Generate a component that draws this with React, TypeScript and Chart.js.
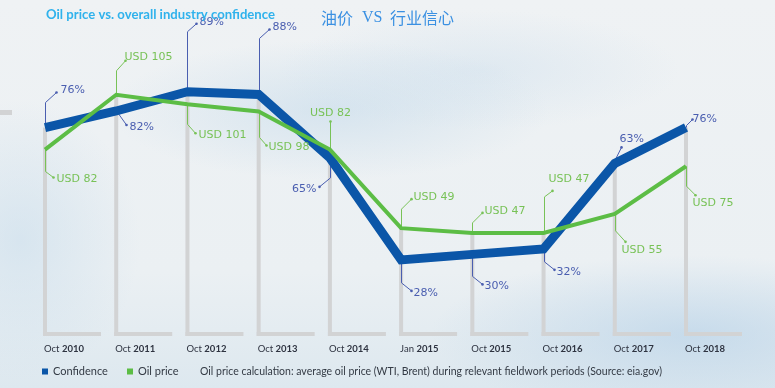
import React, { useEffect, useRef } from "react";
import { Chart, registerables } from "chart.js";

Chart.register(...registerables);

// ---- data ----
const categoryMonths = ["Oct", "Oct", "Oct", "Oct", "Oct", "Jan", "Oct", "Oct", "Oct", "Oct"];
const categoryYears = ["2010", "2011", "2012", "2013", "2014", "2015", "2015", "2016", "2017", "2018"];
const confidence = [76, 82, 89, 88, 65, 28, 30, 32, 63, 76];
const oilPrice = [82, 105, 101, 98, 82, 49, 47, 47, 55, 75];
const confidenceLabels = confidence.map((v) => `${v}%`);
const oilLabels = oilPrice.map((v) => `USD ${v}`);

const legendItems = ["Confidence", "Oil price"];
const noteText =
  "Oil price calculation: average oil price (WTI, Brent) during relevant fieldwork periods (Source: eia.gov)";
const titleText = "Oil price vs. overall industry confidence";

// ---- styles ----
const BLUE = "#0b56a8";
const GREEN = "#5cbd45";
const BLUE_LABEL = "#4a5eb0";
const GREEN_LABEL = "#78c257";
const BAR_GREY = "#d2d3d4";

// leader layout: [vertical, diagX, diagY, textDx, textDy, align]
type Lay = [number, number, number, number, number, string];
const confLabelLayout: Lay[] = [
  [-25, 11, -10, 4, -2, "l"],
  [0, 10, 14, 3, 2, "l"],
  [-60, 9, -8, 3, -2, "l"],
  [-56, 10, -9, 3, -2, "l"],
  [20, -11, 9, -3, 2, "r"],
  [23, 10, 8, 2, 2, "l"],
  [22, 10, 8, 2, 2, "l"],
  [13, 10, 8, 2, 2, "l"],
  [-4, 6, -12, -2, -8, "l"],
  [-2, 6, -6, 0, 0, "l"],
];
const oilLabelLayout: Lay[] = [
  [22, 8, 6, 3, 2, "l"],
  [-24, 9, -10, -1, -4, "l"],
  [20, 8, 9, 3, 2, "l"],
  [26, 7, 8, 2, 2, "l"],
  [-28, 0, 0, 0, -8, "c"],
  [-19, 10, -10, 2, -2, "l"],
  [-10, 10, -10, 2, -2, "l"],
  [-36, 8, -6, -4, -12, "l"],
  [17, 10, 11, -4, 8, "l"],
  [20, 9, 9, -3, 8, "l"],
];

const barsPlugin = {
  id: "greyBars",
  beforeDatasetsDraw(chart: any) {
    const { ctx, chartArea } = chart;
    const m0 = chart.getDatasetMeta(0);
    const m1 = chart.getDatasetMeta(1);
    ctx.save();
    ctx.fillStyle = BAR_GREY;
    ctx.fillRect(0, 110, 12, 5);
    m0.data.forEach((pt: any, i: number) => {
      const x = pt.x;
      const top = Math.min(pt.y, m1.data[i].y);
      const bottom = chartArea.bottom;
      ctx.fillRect(x - 2, top, 4, bottom - top);
      ctx.fillRect(x - 2, bottom - 4, 58, 4);
    });
    // leaders
    const drawLeaders = (meta: any, lay: Lay[], color: string) => {
      ctx.strokeStyle = color;
      ctx.fillStyle = color;
      ctx.lineWidth = 1;
      meta.data.forEach((pt: any, i: number) => {
        const [v, dx, dy] = lay[i];
        const x = Math.round(pt.x) + 0.5;
        const y = pt.y;
        ctx.beginPath();
        ctx.moveTo(x, y);
        ctx.lineTo(x, y + v);
        ctx.lineTo(x + dx, y + v + dy);
        ctx.stroke();
        ctx.beginPath();
        ctx.arc(x + dx, y + v + dy, 1.3, 0, Math.PI * 2);
        ctx.fill();
      });
    };
    drawLeaders(m0, confLabelLayout, BLUE_LABEL);
    drawLeaders(m1, oilLabelLayout, GREEN_LABEL);
    ctx.restore();
  },
};

const labelsPlugin = {
  id: "valueLabels",
  afterDatasetsDraw(chart: any) {
    const { ctx } = chart;
    const draw = (meta: any, lay: Lay[], texts: string[], color: string) => {
      ctx.fillStyle = color;
      ctx.font = "11px 'DejaVu Sans'";
      ctx.textBaseline = "middle";
      meta.data.forEach((pt: any, i: number) => {
        const [v, dx, dy, tx, ty, al] = lay[i];
        const x = Math.round(pt.x) + 0.5 + dx + tx;
        const y = pt.y + v + dy + ty;
        ctx.textAlign = al === "l" ? "left" : al === "r" ? "right" : "center";
        ctx.fillText(texts[i], x, y);
      });
    };
    ctx.save();
    draw(chart.getDatasetMeta(0), confLabelLayout, confidenceLabels, BLUE_LABEL);
    draw(chart.getDatasetMeta(1), oilLabelLayout, oilLabels, GREEN_LABEL);
    ctx.restore();
  },
};

const textPlugin = {
  id: "texts",
  afterDraw(chart: any) {
    const { ctx, chartArea } = chart;
    const xs = chart.scales.x;
    ctx.save();
    ctx.textBaseline = "middle";
    ctx.textAlign = "left";
    // x tick labels
    categoryYears.forEach((yr, i) => {
      const x = xs.getPixelForValue(i) - 1;
      const y = chartArea.bottom + 13;
      ctx.fillStyle = "#2e3340";
      ctx.font = "9.5px Lato";
      const m = categoryMonths[i] + " ";
      ctx.fillText(m, x, y);
      const w = ctx.measureText(m).width;
      ctx.font = "bold 9.5px Lato";
      ctx.fillText(yr, x + w, y);
    });
    // legend
    const ly = 371.5;
    ctx.fillStyle = BLUE;
    ctx.fillRect(42, ly - 3, 6, 6);
    ctx.fillStyle = GREEN;
    ctx.fillRect(127, ly - 3, 6, 6);
    ctx.fillStyle = "#333a44";
    ctx.font = "11px Lato";
    ctx.fillText(legendItems[0], 53, ly);
    ctx.fillText(legendItems[1], 138, ly);
    ctx.save();
    const nw = ctx.measureText(noteText).width;
    const target = 462;
    ctx.translate(200, 0);
    ctx.scale(target / nw, 1);
    ctx.fillText(noteText, 0, ly);
    ctx.restore();
    // title
    ctx.fillStyle = "#2fb2ec";
    ctx.font = "bold 13px Lato";
    ctx.save();
    const tw = ctx.measureText(titleText).width;
    ctx.translate(46, 0);
    ctx.scale(229 / tw, 1);
    ctx.fillText(titleText, 0, 15);
    ctx.restore();
    ctx.fillStyle = "#3a90e2";
    ctx.font = "16px 'Noto Sans CJK SC'";
    ctx.fillText("油价", 321, 18);
    ctx.font = "16px 'Liberation Serif'";
    ctx.fillText("VS", 362, 18);
    ctx.font = "16px 'Noto Sans CJK SC'";
    ctx.fillText("行业信心", 390, 18);
    ctx.restore();
  },
};

export default function App() {
  const ref = useRef<HTMLCanvasElement | null>(null);
  useEffect(() => {
    if (!ref.current) return;
    const chart = new Chart(ref.current, {
      type: "line",
      data: {
        labels: categoryYears.map((y, i) => `${categoryMonths[i]} ${y}`),
        datasets: [
          {
            label: legendItems[0],
            data: confidence,
            yAxisID: "yConf",
            borderColor: BLUE,
            backgroundColor: BLUE,
            borderWidth: 9,
            pointRadius: 0,
            tension: 0,
            borderJoinStyle: "miter",
            borderCapStyle: "butt",
            order: 1,
          },
          {
            label: legendItems[1],
            data: oilPrice,
            yAxisID: "yOil",
            borderColor: GREEN,
            backgroundColor: GREEN,
            borderWidth: 4,
            pointRadius: 0,
            tension: 0,
            borderJoinStyle: "miter",
            borderCapStyle: "butt",
            order: 0,
          },
        ],
      },
      options: {
        responsive: false,
        animation: false,
        devicePixelRatio: 1,
        layout: { padding: { left: 45, right: 89, top: 20, bottom: 52 } },
        plugins: { legend: { display: false }, tooltip: { enabled: false }, title: { display: false } },
        scales: {
          x: { type: "category", display: false, offset: false },
          yConf: { type: "linear", display: false, min: 0.4, max: 115 },
          yOil: { type: "linear", display: false, min: 3.7, max: 136.4 },
        },
      },
      plugins: [barsPlugin, labelsPlugin, textPlugin],
    } as any);
    return () => chart.destroy();
  }, []);

  return (
    <div
      style={{
        position: "fixed",
        left: 0,
        top: 0,
        width: 775,
        height: 388,
        overflow: "hidden",
        background:
          "radial-gradient(ellipse 220px 70px at 330px 110px, rgba(185,212,232,0.45), rgba(185,212,232,0)), " +
          "radial-gradient(ellipse 260px 80px at 690px 335px, rgba(175,205,230,0.55), rgba(175,205,230,0)), " +
          "radial-gradient(ellipse 120px 140px at 20px 240px, rgba(195,218,235,0.5), rgba(195,218,235,0)), " +
          "radial-gradient(ellipse 200px 60px at 480px 70px, rgba(200,220,236,0.4), rgba(200,220,236,0)), " +
          "linear-gradient(180deg, #eff2f4 0%, #ebf0f3 70%, #dde8ef 100%)",
      }}
    >
      <canvas ref={ref} width={775} height={388} style={{ display: "block" }} />
    </div>
  );
}
